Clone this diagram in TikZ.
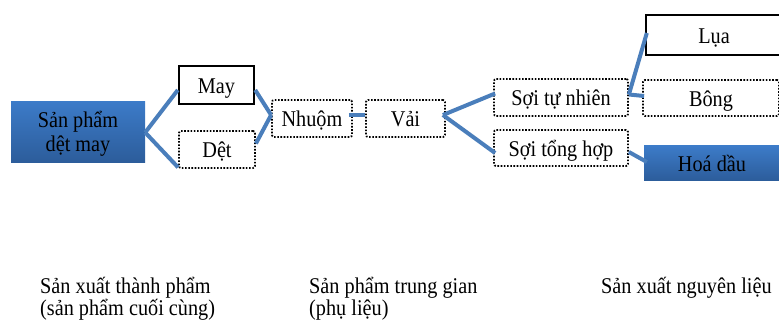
\documentclass[tikz,border=0pt]{standalone}
\usepackage{fontspec}
\setmainfont[FakeStretch=0.9]{Liberation Serif}
\usetikzlibrary{calc}
\definecolor{linkblue}{HTML}{4A7EBB}
\definecolor{boxtop}{HTML}{3C7BC8}
\definecolor{boxbot}{HTML}{2C5C9A}
\tikzset{
  lbl/.style={font=\fontsize{22.5}{24}\selectfont, text=black, inner sep=0pt,
    text height=17pt, text depth=0pt},
  dotbox/.style={lbl, draw=black, line width=1.8pt, dash pattern=on 1.6pt off 1.6pt, rounded corners=2pt},
  solidbox/.style={lbl, draw=black, line width=2.4pt},
  bluebox/.style={lbl, top color=boxtop, bottom color=boxbot, draw=none},
  link/.style={draw=linkblue, line width=4pt},
  caption/.style={font=\fontsize{22.5}{22}\selectfont, align=left, inner sep=0pt, anchor=base west}
}
\begin{document}
\begin{tikzpicture}[x=1pt,y=-1pt]
\useasboundingbox (0,0) rectangle (779,323);
\begin{scope}
\clip (0,0) rectangle (779,323);
% product chain boxes
\node[bluebox, minimum width=134pt, minimum height=61pt, align=center, text height=39pt] (spdm) at (78,132.5) {Sản phẩm\\dệt may};
\node[solidbox, minimum width=75pt, minimum height=38pt] (may) at (216.5,85) {May};
\node[dotbox, minimum width=76pt, minimum height=37pt] (det) at (217,149.5) {Dệt};
\node[dotbox, minimum width=80pt, minimum height=37pt] (nhuom) at (312,118.5) {Nhuộm};
\node[dotbox, minimum width=79pt, minimum height=37pt] (vai) at (405.5,118.5) {Vải};
\node[dotbox, minimum width=134pt, minimum height=37pt] (stn) at (561,97.5) {Sợi tự nhiên};
\node[dotbox, minimum width=134pt, minimum height=36pt] (sth) at (561,148) {Sợi tổng hợp};
\node[solidbox, minimum width=136pt, minimum height=40pt] (lua) at (714,35) {Lụa};
\node[dotbox, minimum width=136pt, minimum height=36pt] (bong) at (711,98) {Bông};
\node[bluebox, minimum width=136pt, minimum height=35pt] (hoa) at (712,163.5) {Hoá dầu};

% connectors
\draw[link] (spdm.east) -- ([yshift=-5pt]may.west);
\draw[link] (spdm.east) -- ([yshift=1.5pt]det.south west);
\draw[link] ([yshift=-5pt]may.east) -- ([yshift=3.5pt]nhuom.west);
\draw[link] ([yshift=6pt]det.east) -- ([yshift=3.5pt]nhuom.west);
\draw[link] ([xshift=-4pt,yshift=3.5pt]nhuom.east) -- ([yshift=3.5pt]vai.west);
\draw[link] ([xshift=-3pt,yshift=3.5pt]vai.east) -- ([xshift=2pt,yshift=4pt]stn.west);
\draw[link] ([xshift=-3pt,yshift=3.5pt]vai.east) -- ([xshift=2pt,yshift=-5pt]sth.west);
\draw[link] ([yshift=3pt]stn.east) -- ([xshift=2pt,yshift=2pt]lua.west);
\draw[link] ([yshift=3pt]stn.east) -- ([xshift=2pt,yshift=2pt]bong.west);
\draw[link] ([yshift=-4pt]sth.east) -- ([xshift=3pt,yshift=1.5pt]hoa.west);
\end{scope}

% stage captions
\node[caption] (cap1) at (40,315) {Sản xuất thành phẩm\\(sản phẩm cuối cùng)};
\node[caption] (cap2) at (309,315) {Sản phẩm trung gian\\(phụ liệu)};
\node[caption] (cap3) at (601,293) {Sản xuất nguyên liệu};
\end{tikzpicture}
\end{document}
